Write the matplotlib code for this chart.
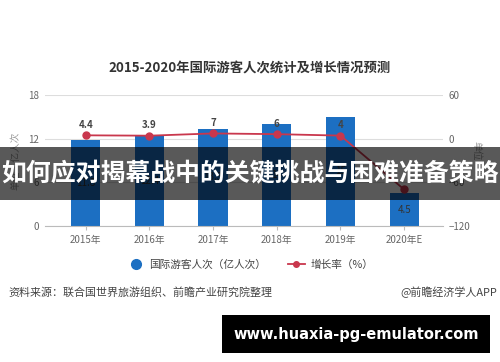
import matplotlib
matplotlib.use("Agg")
import matplotlib.pyplot as plt
from matplotlib.lines import Line2D
from matplotlib.patches import Rectangle

plt.rcParams['font.family'] = ['Noto Sans CJK SC', 'DejaVu Sans']

years = ["2015年", "2016年", "2017年", "2018年", "2019年", "2020年E"]
visitors = [11.8, 12.4, 13.3, 14.0, 15.0, 4.5]      # 亿人次
growth = [4.4, 3.9, 7.0, 6.0, 4.0, -70.0]          # %
left_ticks = [0, 6, 12, 18]
right_ticks = [-120, -60, 0, 60]

BLUE = "#1c6fc2"
RED = "#c9374d"
GRAY = "#666666"

fig = plt.figure(figsize=(5.0, 3.62), dpi=100)
ax = fig.add_axes([0.09, 0.376, 0.796, 0.362])
x = list(range(len(years)))
ax.bar(x, visitors, width=0.46, color=BLUE, zorder=2)
ax.set_ylim(0, 18)
ax.set_xlim(-0.64, 5.61)
ax.set_yticks(left_ticks)
ax.set_xticks(x)
ax.set_xticklabels(years)
ax.grid(axis='y', color="#dddddd", linewidth=0.8, zorder=0)
for s in ['top', 'right', 'left']:
    ax.spines[s].set_visible(False)
ax.spines['bottom'].set_color("#bbbbbb")
ax.tick_params(axis='y', length=0, labelsize=7, labelcolor=GRAY, pad=4)
ax.tick_params(axis='x', length=3, color="#bbbbbb", labelsize=7, labelcolor=GRAY)
ax.set_ylabel("单位：亿人次", fontsize=7, color="#999999", labelpad=6)

for xi, v in zip(x, visitors):
    ax.text(xi, v / 2, f"{v:g}", ha='center', va='center', fontsize=7, color="#333333", zorder=3)

ax2 = ax.twinx()
ax2.set_ylim(-120, 60)
ax2.set_yticks(right_ticks)
ax2.plot(x, growth, color=RED, linewidth=1.3, marker='o', markersize=5, zorder=4)
for s in ['top', 'right', 'left', 'bottom']:
    ax2.spines[s].set_visible(False)
ax2.tick_params(axis='y', length=0, labelsize=7, labelcolor=GRAY, pad=4)
ax2.set_ylabel("单位：%", fontsize=7, color="#999999", rotation=-90, labelpad=8)
for xi, g in zip(x[:-1], growth[:-1]):
    ax2.annotate(f"{g:g}", (xi, g), xytext=(0, 4), textcoords='offset points',
                 ha='center', va='bottom', fontsize=7, fontweight='bold', color="#444444")

fig.text(0.5, 0.81, "2015-2020年国际游客人次统计及增长情况预测", ha='center', va='center',
         fontsize=9.6, fontweight='bold', color="#333333")

handles = [Line2D([], [], color=BLUE, marker='o', linestyle='None', markersize=7),
           Line2D([], [], color=RED, marker='o', markersize=4, linewidth=1.3)]
fig.legend(handles, ["国际游客人次（亿人次）", "增长率（%）"], loc='center', ncol=2,
           bbox_to_anchor=(0.5, 0.268), frameon=False, fontsize=7.7, labelcolor="#444444",
           handlelength=1.6, handletextpad=0.5, columnspacing=2.0)

fig.text(0.016, 0.193, "资料来源：联合国世界旅游组织、前瞻产业研究院整理", ha='left', va='center',
         fontsize=7.9, color="#444444")
fig.text(0.994, 0.193, "@前瞻经济学人APP", ha='right', va='center', fontsize=7.9, color="#444444")

# overlay banner
fig.patches.append(Rectangle((0, 1 - 200 / 362), 1, 53 / 362, transform=fig.transFigure,
                             facecolor='black', alpha=0.65, zorder=10))
fig.text(0.5, 1 - 174 / 362, "如何应对揭幕战中的关键挑战与困难准备策略", ha='center', va='center',
         fontsize=17.9, fontweight='bold', color='white', zorder=11)
fig.patches.append(Rectangle((222 / 500, 1 - 353 / 362), 268 / 500, 38 / 362, transform=fig.transFigure,
                             facecolor='black', zorder=10))
fig.text(356 / 500, 1 - 334 / 362, "www.huaxia-pg-emulator.com", ha='center', va='center',
         fontsize=10.5, fontweight='bold', color='white', family=['DejaVu Sans'], zorder=11)

fig.savefig("out.png", dpi=100)
